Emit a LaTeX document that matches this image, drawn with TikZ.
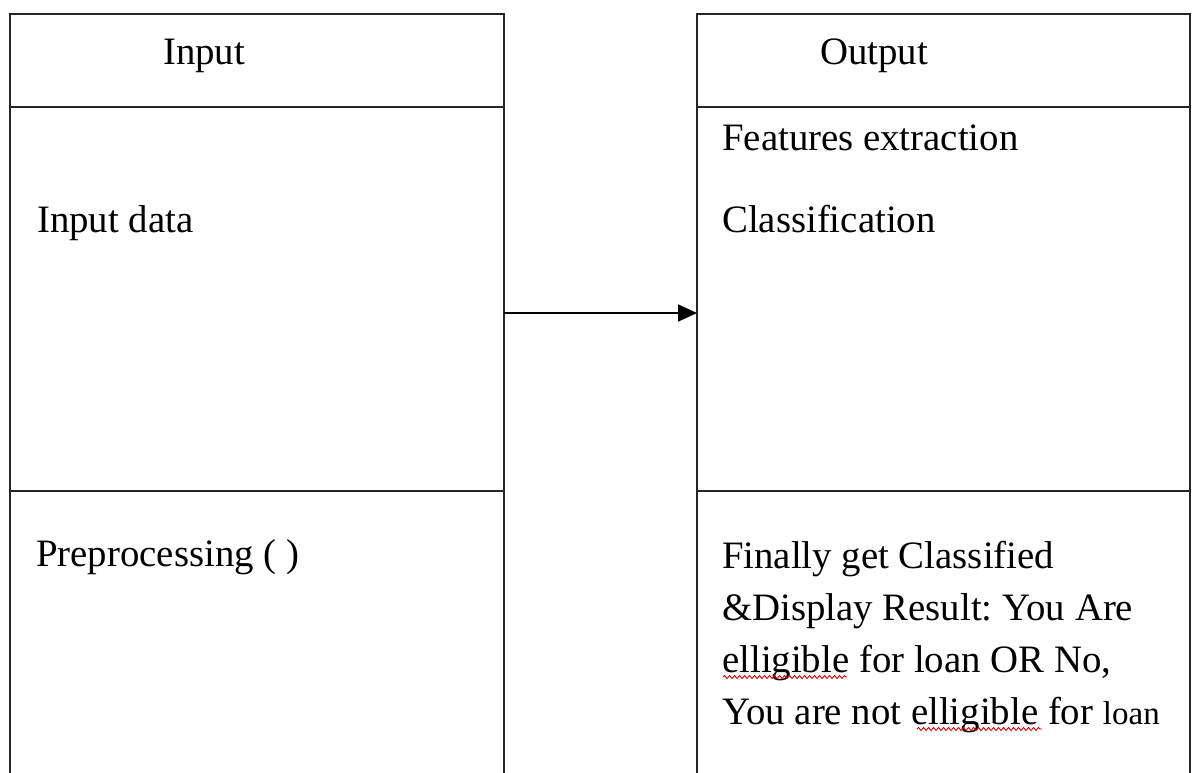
\documentclass[tikz,border=0pt]{standalone}
\usepackage{fontspec}
\setmainfont{Liberation Serif}
\usetikzlibrary{arrows.meta,decorations.pathmorphing}
\begin{document}
\frenchspacing
\begin{tikzpicture}[x=1pt,y=-1pt,
  boxline/.style={draw=black!85,line width=1.8pt},
  txt/.style={anchor=base west,inner sep=0pt,font=\fontsize{38.8}{52}\selectfont},
  squig/.style={draw=red!85!black,line width=0.9pt,decorate,decoration={snake,amplitude=1.5pt,segment length=5pt}},
  conn/.style={draw=black,line width=1.8pt,-{Triangle[length=19pt,width=17pt]}}]
\useasboundingbox (0,0) rectangle (1195,772);
\clip (0,0) rectangle (1195,772);
% left box
\path[boxline] (10,800) -- (10,14) -- (504,14) -- (504,800);
\path[boxline] (10,107) -- (504,107);
\path[boxline] (10,491) -- (504,491);
% right box
\path[boxline] (697,800) -- (697,14) -- (1190,14) -- (1190,800);
\path[boxline] (697,107) -- (1190,107);
\path[boxline] (697,491) -- (1190,491);
% texts
\node[txt] (tin) at (163,64) {Input};
\node[txt] (tout) at (820,64) {Output};
\node[txt] (indata) at (37,232) {Input data};
\node[txt] (prep) at (36,566) {Preprocessing ( )};
\node[txt] (feat) at (722,150) {Features extraction};
\node[txt] (cls) at (722,232) {Classification};
\node[txt] (r1) at (722,568) {Finally get Classified};
\node[txt] (r2) at (722,620) {\&Display Result: You Are};
\node[txt] (r3) at (722,672) {elligible for loan OR No,};
\node[txt] (r4) at (722,724) {You are not elligible for {\fontsize{33}{34}\selectfont loan}};
% spell-check squiggles
\coordinate (s1a) at (723,677); \coordinate (s1b) at (847,677);
\coordinate (s2a) at (917,729); \coordinate (s2b) at (1042,729);
\path[squig] (s1a) -- (s1b);
\path[squig] (s2a) -- (s2b);
% connector
\coordinate (ca) at (504,313);
\coordinate (cb) at (697,313);
\path[conn] (ca) -- (cb);
\end{tikzpicture}
\end{document}
